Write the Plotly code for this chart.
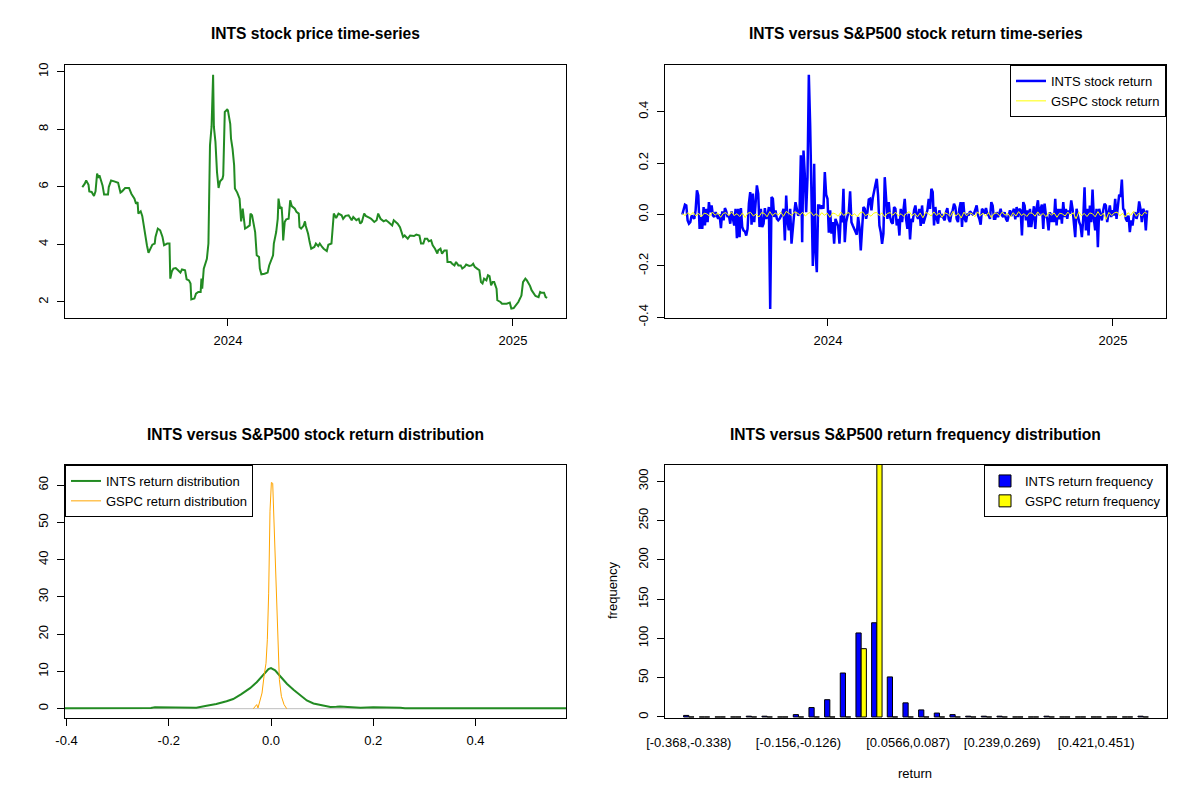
import pandas as pd
import plotly.graph_objects as go

START = pd.Timestamp("2023-06-28")
END = pd.Timestamp("2025-02-14")

# ---- INTS price (day offset from START, price) ----
PRICE_DAY = [0,3,5,8,9,12,15,17,19,21,22,24,26,28,33,34,37,41,46,49,51,55,60,63,67,69,71,72,75,77,79,81,83,85,87,90,93,94,97,100,103,105,109,112,113,115,117,120,123,126,128,132,134,137,139,140,144,146,149,152,153,154,156,157,160,162,163,164,166,168,169,171,173,175,177,180,181,183,186,187,
             190,191,193,195,196,199,202,203,204,206,208,209,212,215,216,218,220,222,224,227,228,230,234,238,240,243,245,246,249,251,252,254,256,257,258,260,262,265,267,269,273,275,278,279,281,284,286,287,290,292,294,298,300,303,305,308,310,314,316,320,322,323,326,329,333,335,338,342,346,348,352,355,357,359,362,364,369,371,375,378,380,383,387,390,393,395,398,400,
             402,405,408,410,412,414,418,421,426,429,433,435,438,440,443,445,448,450,453,456,457,460,462,465,468,469,473,475,478,480,483,486,488,491,493,497,500,502,504,507,510,512,514,516,519,521,523,525,527,529,532,533,537,539,543,545,549,551,554,557,560,563,564,566,569,571,575,577,580,582,586,588,590,593,595,597]
PRICE = [5.99,6.10,6.22,6.07,5.84,5.82,5.68,5.84,6.46,6.31,6.40,6.22,6.05,5.73,5.73,5.99,6.22,6.19,6.14,5.80,5.84,5.96,5.96,5.76,5.59,5.41,5.47,5.07,5.15,4.99,4.60,4.31,3.97,3.71,3.85,3.99,4.03,4.26,4.55,4.49,4.26,3.97,4.03,4.03,2.81,3.06,3.16,3.18,3.10,3.02,3.13,3.10,2.79,2.75,2.64,2.09,2.12,2.29,2.35,2.35,2.81,2.46,3.16,3.25,3.50,4.03,6.86,7.44,8.08,9.89,8.08,7.56,6.51,5.96,6.19,6.28,6.40,8.60,8.68,8.66,
         8.19,7.67,7.32,6.75,5.94,5.80,5.59,4.99,4.80,5.24,4.78,4.55,4.60,4.66,5.07,5.01,4.72,4.43,3.62,3.56,3.16,2.96,2.98,3.02,3.27,3.45,3.62,4.03,4.43,4.89,5.59,5.24,5.30,4.89,4.14,4.78,4.87,4.89,5.53,5.33,5.24,5.13,5.07,4.60,4.55,4.64,4.80,4.64,4.37,4.08,3.85,3.91,4.03,3.94,4.03,3.91,3.85,3.77,3.99,4.03,4.78,5.07,4.92,5.07,5.01,4.89,4.99,5.01,4.84,4.95,4.84,4.89,4.72,4.78,5.07,4.99,4.92,4.89,4.78,4.84,5.07,4.89,4.80,4.84,4.78,4.72,4.66,4.84,
         4.80,4.72,4.60,4.43,4.26,4.31,4.20,4.31,4.29,4.34,4.31,4.03,4.03,4.20,4.20,4.11,4.14,3.97,3.85,3.68,3.79,3.85,3.68,3.79,3.79,3.39,3.39,3.33,3.27,3.39,3.27,3.27,3.16,3.22,3.30,3.25,3.27,3.33,3.22,3.16,3.10,2.69,2.64,2.81,2.75,2.93,2.90,2.58,2.69,2.69,2.46,2.06,2.00,1.94,1.94,1.94,1.98,1.77,1.79,1.91,2.00,2.17,2.23,2.69,2.81,2.75,2.56,2.41,2.29,2.21,2.17,2.35,2.32,2.32,2.17,2.14]

# ---- daily returns (sequential, evenly spaced through the period) ----
INTS_RET = [0.000,0.022,0.038,0.035,-0.023,-0.036,-0.030,-0.004,-0.010,-0.017,
            0.016,0.094,0.074,-0.056,-0.010,-0.056,0.029,-0.043,0.022,-0.030,
            0.048,0.009,0.035,-0.004,-0.010,0.009,-0.006,-0.017,0.000,-0.053,
            0.012,-0.023,0.025,0.012,-0.010,-0.004,-0.036,0.012,-0.017,-0.043,
            0.022,-0.092,0.022,-0.088,0.025,-0.049,-0.062,-0.066,-0.082,-0.056,
            0.042,0.087,-0.040,0.081,-0.030,0.068,0.113,0.081,-0.049,0.022,
            -0.049,-0.036,0.025,-0.017,-0.006,0.029,-0.368,0.068,0.061,-0.010,
            0.016,-0.017,-0.023,-0.017,-0.006,0.003,0.022,-0.101,0.074,-0.030,
            -0.062,0.022,-0.114,-0.043,0.003,0.048,0.022,-0.004,0.003,0.230,
            -0.108,0.249,0.152,0.009,0.145,0.544,0.347,0.016,-0.201,0.197,
            -0.147,-0.225,0.035,0.035,0.022,0.035,0.022,0.165,0.077,0.061,
            -0.071,
            0.016,-0.075,-0.030,-0.114,-0.017,-0.030,-0.045,-0.114,-0.004,-0.030,
            0.100,-0.108,-0.030,-0.006,0.009,0.090,-0.030,-0.043,-0.056,-0.062,
            -0.079,-0.010,-0.049,-0.140,-0.030,0.029,0.022,-0.017,0.009,0.058,
            0.061,0.016,0.064,0.100,0.116,0.139,0.074,-0.043,-0.069,-0.114,
            -0.075,0.145,0.048,-0.017,0.048,-0.010,-0.030,-0.036,0.029,0.022,
            -0.043,-0.017,-0.082,0.022,-0.030,0.016,0.061,-0.017,-0.056,0.003,
            -0.097,-0.017,-0.030,0.016,0.035,-0.004,-0.017,0.022,-0.045,0.035,
            -0.036,-0.017,-0.004,0.016,0.061,0.022,0.100,0.087,-0.043,0.029,
            -0.017,-0.036,0.016,-0.010,-0.004,-0.017,-0.023,0.009,0.025,-0.017,
            -0.030,0.003,0.016,0.042,0.029,-0.017,-0.030,0.022,0.048,-0.049,
            0.048,-0.017,-0.030,0.003,-0.004,0.012,0.006,0.000,0.003,0.016,
            0.035,-0.004,-0.017,-0.040,0.022,0.016,0.003,0.025,0.003,-0.004,
            -0.017,0.048,0.035,-0.017,
            -0.017,0.009,-0.010,0.003,0.022,-0.004,-0.010,0.009,-0.017,-0.027,
            -0.010,0.016,-0.006,0.009,0.022,-0.019,0.029,-0.010,0.022,0.016,
            -0.082,0.048,0.035,-0.023,0.016,-0.049,0.022,-0.049,-0.017,0.032,
            -0.056,0.025,0.055,-0.004,0.022,0.038,-0.056,0.042,-0.004,-0.017,
            -0.062,0.009,-0.030,0.003,-0.030,0.061,-0.043,0.022,-0.019,0.022,
            -0.036,0.048,-0.010,0.022,-0.017,0.016,0.003,0.055,0.022,-0.030,
            -0.088,0.022,-0.010,-0.030,-0.043,-0.088,-0.017,0.106,-0.062,0.022,
            -0.082,0.035,-0.030,0.097,-0.017,-0.062,0.022,-0.127,0.022,-0.004,
            -0.023,0.016,0.042,0.035,-0.030,0.003,0.035,-0.010,0.016,-0.004,
            0.061,-0.017,0.035,0.077,0.068,0.136,0.022,0.016,-0.017,-0.027,
            -0.004,-0.069,-0.023,-0.043,-0.004,0.009,-0.017,0.003,0.051,0.022,
            -0.030,0.022,0.009,-0.062,0.016]

GSPC_RET = [0.003,-0.004,0.006,-0.002,0.008,-0.006,0.004,-0.009,0.005,0.002,-0.007,0.009,-0.003,0.006,-0.011,0.004,0.007,-0.005,0.010,-0.004,
            0.003,-0.008,0.006,-0.012,0.005,0.008,-0.006,0.002,-0.010,0.007,0.004,-0.009,0.011,-0.005,0.006,-0.003,0.009,-0.007,0.012,0.005,
            -0.004,0.010,0.006,-0.002,0.008,-0.006,0.004,0.009,-0.005,0.003,-0.008,0.007,-0.003,0.005,-0.011,0.006,0.002,-0.007,0.009,-0.004,
            0.004,0.007,-0.006,0.003,-0.009,0.006,0.010,-0.005,0.002,-0.007,0.005,0.008,-0.004,0.006,-0.010,0.004,0.007,-0.003,0.009,-0.006,
            0.003,-0.008,0.005,0.011,-0.005,0.004,-0.009,0.006,-0.013,0.008,0.003,-0.006,0.010,-0.004,0.005,-0.011,0.007,0.002,-0.008,0.012,
            -0.006,0.004,-0.014,0.009,-0.005,0.006,0.003,-0.009,0.010,-0.004,0.005,-0.007,0.008,-0.012,0.004,0.006,-0.005,0.009,-0.003,0.004,
            -0.010,0.007,-0.006,0.011,-0.004,0.003,-0.008,0.006,0.005,-0.007,0.010,-0.005,0.004,-0.009,0.008,-0.003,0.006,-0.011,0.005,0.002,
            -0.006,0.009,-0.004,0.007,-0.017,0.010,-0.005,0.004,-0.008,0.006,0.003,-0.009,0.011,-0.006,0.005,-0.019,0.008,-0.004,0.006,0.009,
            -0.005,0.004,-0.010,0.007,-0.003,0.012,-0.007,0.005,-0.006,0.008,0.004]

# ---- densities ----
INTS_DENS_X = [-0.403,-0.30,-0.235,-0.227,-0.198,-0.19,-0.146,-0.126,-0.107,-0.087,-0.074,-0.058,-0.041,-0.028,-0.015,-0.005,0.0,0.008,0.018,0.031,0.044,0.057,0.070,0.083,0.103,0.116,0.128,0.135,0.150,0.175,0.200,0.227,0.253,0.262,0.35,0.45,0.577]
INTS_DENS_Y = [0.15,0.15,0.2,0.36,0.36,0.2,0.27,0.8,1.25,2.0,2.6,3.9,5.5,7.1,9.1,10.6,10.9,10.3,8.7,6.7,5.1,3.6,2.2,1.4,0.9,0.45,0.5,0.6,0.45,0.27,0.36,0.36,0.27,0.15,0.15,0.15,0.15]
GSPC_DENS_X = [-0.0346,-0.031,-0.028,-0.0255,-0.0216,-0.0176,-0.0137,-0.0098,-0.0072,-0.0046,-0.002,0.0007,0.0033,0.0059,0.0085,0.011,0.0137,0.0163,0.0203,0.0255,0.0307]
GSPC_DENS_Y = [0.0,0.6,1.1,0.2,2.0,4.2,8.7,12.2,18.5,31.0,53.0,60.7,60.5,48.9,37.3,26.5,15.8,7.8,3.3,1.1,0.0]

# ---- histogram ----
BIN_BREAKS = ["-0.368","-0.338","-0.308","-0.277","-0.247","-0.217","-0.186","-0.156","-0.126","-0.0952",
              "-0.0648","-0.0345","-0.00414","0.0262","0.0566","0.087","0.117","0.148","0.178","0.208",
              "0.239","0.269","0.299","0.33","0.36","0.391","0.421","0.451","0.482","0.512","0.542"]
BIN_LABELS = ["[%s,%s)" % (BIN_BREAKS[i], BIN_BREAKS[i + 1]) for i in range(30)]
INTS_FREQ = [2,0,0,0,1,1,0,3,12,22,56,107,120,51,18,9,5,3,1,1,1,0,0,1,0,0,0,0,0,1]
GSPC_FREQ = [0,0,0,0,0,0,0,0,0,0,0,87,328,0,0,0,0,0,0,0,0,0,0,0,0,0,0,0,0,0]
SHOWN_BINS = [0, 7, 14, 20, 26]

price_dates = [START + pd.Timedelta(days=d) for d in PRICE_DAY]
ret_dates = pd.date_range(START, END, periods=len(INTS_RET))
gspc_dates = pd.date_range(START, END, periods=len(GSPC_RET))

FONT = "Liberation Sans, Arial, sans-serif"
FS = 13
fig = go.Figure()

fig.add_trace(go.Scatter(x=price_dates, y=PRICE, mode="lines", line=dict(color="#228B22", width=2),
                         xaxis="x", yaxis="y", showlegend=False))
fig.add_trace(go.Scatter(x=ret_dates, y=INTS_RET, mode="lines", line=dict(color="#0000FF", width=2.5),
                         name="INTS stock return", xaxis="x2", yaxis="y2", legend="legend"))
fig.add_trace(go.Scatter(x=gspc_dates, y=GSPC_RET, mode="lines", line=dict(color="#FFFF00", width=1),
                         name="GSPC stock return", xaxis="x2", yaxis="y2", legend="legend"))
fig.add_trace(go.Scatter(x=INTS_DENS_X, y=INTS_DENS_Y, mode="lines", line=dict(color="#228B22", width=2),
                         name="INTS return distribution", xaxis="x3", yaxis="y3", legend="legend2"))
fig.add_trace(go.Scatter(x=GSPC_DENS_X, y=GSPC_DENS_Y, mode="lines", line=dict(color="#FFA500", width=1),
                         name="GSPC return distribution", xaxis="x3", yaxis="y3", legend="legend2"))
fig.add_trace(go.Bar(x=BIN_LABELS, y=INTS_FREQ, marker=dict(color="#0000FF", line=dict(color="black", width=1)),
                     name="INTS return frequency", xaxis="x4", yaxis="y4", legend="legend3"))
fig.add_trace(go.Bar(x=BIN_LABELS, y=GSPC_FREQ, marker=dict(color="#FFFF00", line=dict(color="black", width=1)),
                     name="GSPC return frequency", xaxis="x4", yaxis="y4", legend="legend3"))

W, H = 1200, 800
OFF = 8  # the page body adds an 8px margin; place elements in page pixels


def px_x(a):
    return (a - OFF) / W


def px_y(a):
    return 1 - (a - OFF) / H


def xd(a, b):
    return [px_x(a), px_x(b)]


def yd(top, bottom):
    return [px_y(bottom), px_y(top)]


common = dict(showline=True, mirror=True, linecolor="black", linewidth=1, showgrid=False, zeroline=False,
              automargin=False, ticks="outside", ticklen=7, tickcolor="black",
              tickfont=dict(size=FS, color="black", family=FONT))

fig.update_layout(
    template="none",
    width=W, height=H, margin=dict(l=0, r=0, t=0, b=0, pad=0), autosize=False,
    paper_bgcolor="white", plot_bgcolor="white",
    font=dict(family=FONT, color="black", size=FS),
    barmode="group", bargap=1/3, bargroupgap=0,
    xaxis=dict(domain=xd(65, 566), anchor="y", type="date", range=["2023-06-05 19:00", "2025-03-10 05:00"],
               tickvals=["2024-01-01", "2025-01-01"], ticktext=["2024", "2025"], ticklabelstandoff=3, **common),
    yaxis=dict(domain=yd(65, 318), anchor="x", range=[1.444, 10.23], tickvals=[2, 4, 6, 8, 10], tickangle=-90,
               ticklabelstandoff=4, **common),
    xaxis2=dict(domain=xd(665, 1166), anchor="y2", type="date", range=["2023-06-05 19:00", "2025-03-10 05:00"],
                tickvals=["2024-01-01", "2025-01-01"], ticktext=["2024", "2025"], ticklabelstandoff=3, **common),
    yaxis2=dict(domain=yd(65, 318), anchor="x2", range=[-0.403, 0.5817], tickvals=[-0.4, -0.2, 0, 0.2, 0.4],
                ticktext=["-0.4", "-0.2", "0.0", "0.2", "0.4"], tickangle=-90, ticklabelstandoff=4, **common),
    xaxis3=dict(domain=xd(65, 566), anchor="y3", range=[-0.403, 0.577], tickvals=[-0.4, -0.2, 0, 0.2, 0.4],
                ticktext=["-0.4", "-0.2", "0.0", "0.2", "0.4"], ticklabelstandoff=3, **common),
    yaxis3=dict(domain=yd(465, 718), anchor="x3", range=[-2.5, 65.4], tickvals=[0, 10, 20, 30, 40, 50, 60],
                tickangle=-90, ticklabelstandoff=4, **common),
    xaxis4=dict(domain=xd(665, 1167), anchor="y4", type="category", range=[-1.52, 30.52],
                tickvals=[BIN_LABELS[i] for i in SHOWN_BINS], ticktext=[BIN_LABELS[i] for i in SHOWN_BINS],
                showline=True, mirror=True, linecolor="black", linewidth=1, showgrid=False, zeroline=False,
                automargin=False, ticks="", ticklabelstandoff=12, tickfont=dict(size=FS, color="black", family=FONT)),
    yaxis4=dict(domain=yd(465, 718), anchor="x4", range=[-1.3, 320.9], tickvals=[0, 50, 100, 150, 200, 250, 300],
                tickangle=-90, ticklabelstandoff=4, **common),
    legend=dict(x=px_x(1166), y=px_y(65), xanchor="right", yanchor="top", bordercolor="black", borderwidth=1,
                bgcolor="white", font=dict(size=FS, family=FONT), tracegroupgap=0),
    legend2=dict(x=px_x(65), y=px_y(465), xanchor="left", yanchor="top", bordercolor="black", borderwidth=1,
                 bgcolor="white", font=dict(size=FS, family=FONT), tracegroupgap=0),
    legend3=dict(x=px_x(1167), y=px_y(465), xanchor="right", yanchor="top", bordercolor="black", borderwidth=1,
                 bgcolor="white", font=dict(size=FS, family=FONT), tracegroupgap=0),
    shapes=[dict(type="line", xref="x3 domain", x0=0, x1=1, yref="y3", y0=0, y1=0,
                 line=dict(color="#BEBEBE", width=1), layer="below")],
)

titles = [
    ("INTS stock price time-series", 315.5, 34),
    ("INTS versus S&P500 stock return time-series", 915.5, 34),
    ("INTS versus S&P500 stock return distribution", 315.5, 434),
    ("INTS versus S&P500 return frequency distribution", 915.5, 434),
]
ann = []
for t, px, py in titles:
    ann.append(dict(text="<b>%s</b>" % t, x=px_x(px), y=px_y(py), xref="paper", yref="paper",
                    xanchor="center", yanchor="middle", showarrow=False, font=dict(size=15.6, family=FONT)))
ann.append(dict(text="return", x=px_x(915), y=px_y(773), xref="paper", yref="paper", xanchor="center",
                yanchor="middle", showarrow=False, font=dict(size=FS, family=FONT)))
ann.append(dict(text="frequency", x=px_x(612), y=px_y(590), xref="paper", yref="paper", xanchor="center",
                yanchor="middle", showarrow=False, textangle=-90, font=dict(size=FS, family=FONT)))
fig.update_layout(annotations=ann)

fig.write_html("out.html")
